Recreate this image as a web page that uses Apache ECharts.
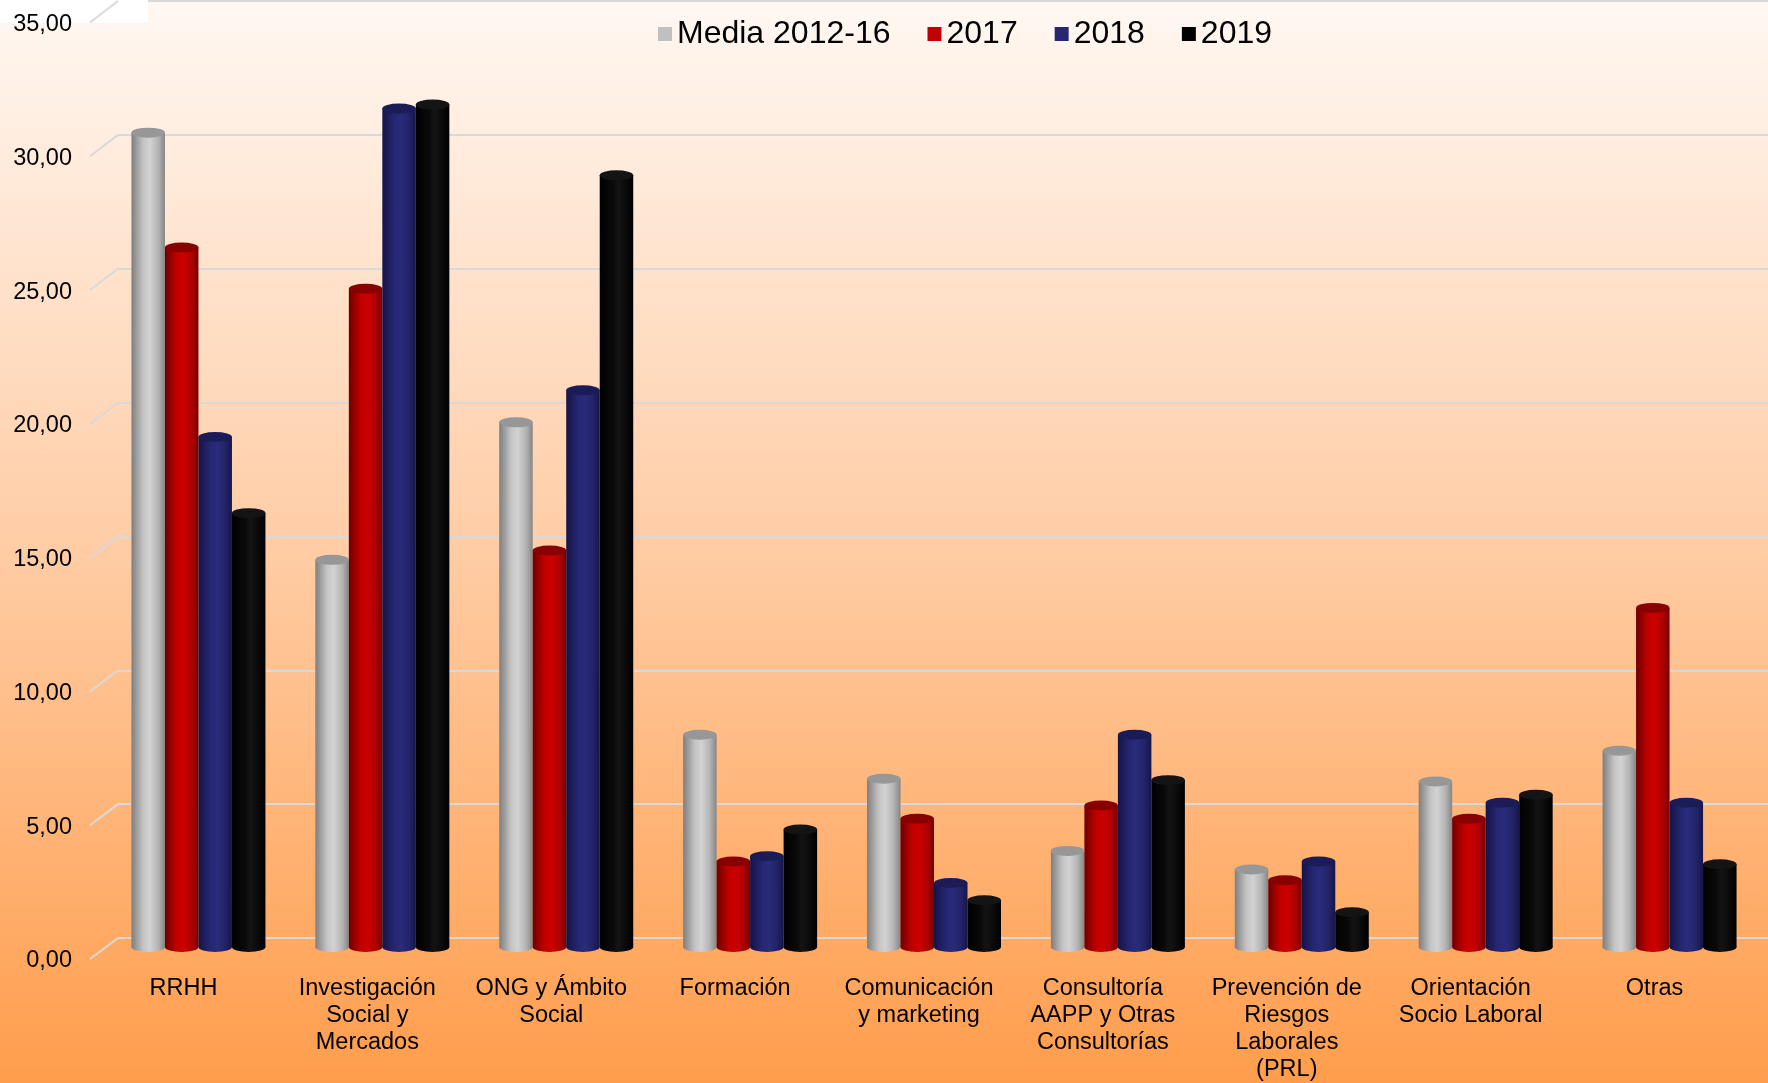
<!DOCTYPE html>
<html><head><meta charset="utf-8">
<script src="https://cdn.jsdelivr.net/npm/echarts@6/dist/echarts.min.js"></script>
<style>html,body{margin:0;padding:0;width:1768px;height:1083px;overflow:hidden;}#c{width:1768px;height:1083px;}</style>
</head><body><div id="c"></div><script>
// ---- data ----
const categories = ['RRHH', 'Investigación\nSocial y\nMercados', 'ONG y Ámbito\nSocial', 'Formación',
  'Comunicación\ny marketing', 'Consultoría\nAAPP y Otras\nConsultorías', 'Prevención de\nRiesgos\nLaborales\n(PRL)',
  'Orientación\nSocio Laboral', 'Otras'];
const seriesNames = ['Media 2012-16', '2017', '2018', '2019'];
const media = [30.5, 14.5, 19.65, 7.95, 6.3, 3.6, 2.9, 6.2, 7.35];
const y2017 = [26.2, 24.65, 14.85, 3.2, 4.8, 5.3, 2.5, 4.8, 12.7];
const y2018 = [19.1, 31.4, 20.85, 3.4, 2.4, 7.95, 3.2, 5.4, 5.4];
const y2019 = [16.25, 31.55, 28.9, 4.4, 1.75, 6.25, 1.3, 5.7, 3.1];
const yTickValues = [0, 5, 10, 15, 20, 25, 30, 35];
const yTickLabels = ['0,00', '5,00', '10,00', '15,00', '20,00', '25,00', '30,00', '35,00'];

// ---- styles ----
const FONT = 'Liberation Sans, Arial, sans-serif';
const H = 1083;
const backLeft = 118, backTop = 1, backBottomY = 938;
const frontLeft = 90, frontTop = 24.5, frontBottomY = 961;
const barLeft = 106.5, barRight = 6.5, barTop = 12.5, barBottomY = 949.5;
const BW = 33.5;
const legendColors = ['#C0C0C0', '#C00000', '#262673', '#000000'];
const bodyStops = [
  [[0, '#7E7E7E'], [0.35, '#C4C4C4'], [0.55, '#D2D2D2'], [0.8, '#B4B4B4'], [1, '#858585']],
  [[0, '#6E0000'], [0.35, '#C00000'], [0.55, '#CC0000'], [0.8, '#B00000'], [1, '#760000']],
  [[0, '#141445'], [0.35, '#262673'], [0.55, '#2B2B7C'], [0.8, '#232368'], [1, '#161648']],
  [[0, '#000000'], [0.4, '#0A0A0A'], [0.55, '#141414'], [1, '#000000']]
];
const topColors = ['#979797', '#880000', '#1B1B58', '#141414'];
function grad(stops) {
  return new echarts.graphic.LinearGradient(0, 0, 1, 0, stops.map(s => ({ offset: s[0], color: s[1] })));
}
const values = [media, y2017, y2018, y2019];

const series = [];
values.forEach((vals, i) => {
  series.push({
    type: 'bar', name: seriesNames[i], xAxisIndex: 1, yAxisIndex: 1, data: vals,
    barWidth: BW, barGap: '0%', z: 3, itemStyle: { color: grad(bodyStops[i]) }, emphasis: { disabled: true }
  });
  series.push({
    type: 'pictorialBar', name: seriesNames[i], xAxisIndex: 1, yAxisIndex: 1, data: vals,
    symbol: 'circle', symbolSize: [BW, 10], symbolPosition: 'end', symbolOffset: [0, '-50%'],
    barWidth: BW, barGap: '0%', z: 4, itemStyle: { color: topColors[i] }, emphasis: { disabled: true }
  });
  series.push({
    type: 'pictorialBar', name: seriesNames[i], xAxisIndex: 2, yAxisIndex: 1, data: vals,
    symbol: 'circle', symbolSize: [BW, 10], symbolPosition: 'start', symbolOffset: [0, '50%'],
    barWidth: BW, barGap: '0%', z: 2, itemStyle: { color: grad(bodyStops[i]) }, emphasis: { disabled: true }
  });
});

const chart = echarts.init(document.getElementById('c'), null, { renderer: 'canvas' });
const hiddenCat = (grid) => ({ type: 'category', gridIndex: grid, data: categories, show: false });
chart.setOption({
  animation: false,
  backgroundColor: new echarts.graphic.LinearGradient(0, 0, 0, 1, [
    { offset: 0, color: '#FFF8F3' }, { offset: 0.5, color: '#FFCDA6' }, { offset: 1, color: '#FF9D4C' }
  ]),
  legend: {
    top: 13, left: 653, itemGap: 37, itemWidth: 14, itemHeight: 14, icon: 'rect',
    textStyle: { fontFamily: FONT, fontSize: 32, color: '#000' },
    data: seriesNames.map((n, i) => ({ name: n, itemStyle: { color: legendColors[i] } }))
  },
  grid: [
    { left: backLeft, right: 0, top: backTop, bottom: H - backBottomY },
    { left: barLeft, right: barRight, top: barTop, bottom: H - barBottomY },
    { left: frontLeft, right: 0, top: frontTop, bottom: H - frontBottomY }
  ],
  xAxis: [
    hiddenCat(0),
    {
      type: 'category', gridIndex: 1, data: categories,
      axisLine: { show: false }, axisTick: { show: false },
      axisLabel: { interval: 0, margin: 28, fontFamily: FONT, fontSize: 23.5, lineHeight: 27, color: '#000', padding: [0, 30, 0, 0] }
    },
    hiddenCat(1),
    hiddenCat(2)
  ],
  yAxis: [
    {
      type: 'value', gridIndex: 0, min: 0, max: 35, interval: 5,
      axisLine: { show: false }, axisTick: { show: false }, axisLabel: { show: false },
      splitLine: { lineStyle: { color: '#D9D9D9', width: 2 } }
    },
    { type: 'value', gridIndex: 1, min: 0, max: 35, interval: 5, show: false, splitLine: { show: false } },
    {
      type: 'value', gridIndex: 2, min: 0, max: 35, interval: 5,
      axisLine: { show: false }, axisTick: { show: false }, splitLine: { show: false },
      axisLabel: {
        margin: 18, fontFamily: FONT, fontSize: 23.5, color: '#000',
        formatter: v => yTickLabels[yTickValues.indexOf(v)]
      }
    }
  ],
  series: series
});

// perspective connectors from front labels to back-wall gridlines
const diag = yTickValues.map(v => ({
  type: 'line', z: 1,
  shape: { x1: frontLeft, y1: chart.convertToPixel({ yAxisIndex: 2 }, v) - 2, x2: backLeft, y2: chart.convertToPixel({ yAxisIndex: 0 }, v) },
  style: { stroke: '#D9D9D9', lineWidth: 2 }
}));
chart.setOption({
  graphic: [{ type: 'rect', z: 0, shape: { x: 0, y: 0, width: 148, height: 23 }, style: { fill: '#FFFFFF' } }].concat(diag)
});
</script></body></html>
